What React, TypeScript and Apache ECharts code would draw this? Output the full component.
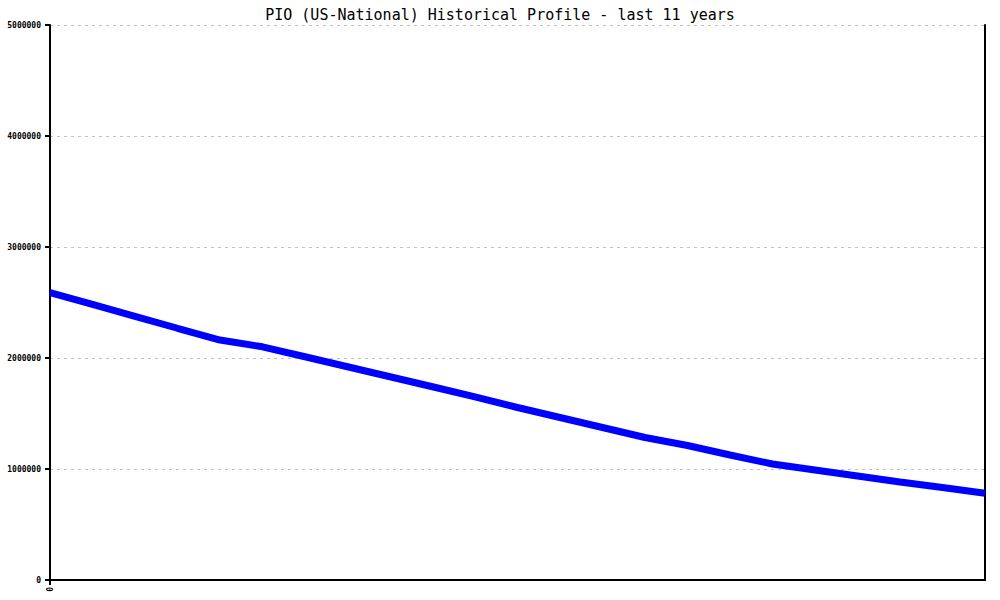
import React, { useEffect, useRef } from "react";
import * as echarts from "echarts";

const titleText = "PIO (US-National) Historical Profile - last 11 years";
const categories = [
  "0", "1", "2", "3", "4", "5", "6", "7", "8", "9", "10", "11",
  "12", "13", "14", "15", "16", "17", "18", "19", "20", "21", "22",
];
const values = [
  2590000, 2483000, 2376000, 2268000, 2162000, 2101000, 2011000, 1921000,
  1831000, 1741000, 1649000, 1554000, 1464000, 1374000, 1284000, 1212000,
  1126000, 1045000, 991000, 937000, 883000, 833000, 781000,
];
const yMin = 0;
const yMax = 5000000;
const yStep = 1000000;

export default function App() {
  const ref = useRef<HTMLDivElement>(null);
  useEffect(() => {
    document.body.style.margin = "0";
    if (!ref.current) return;
    const chart = echarts.init(ref.current, null, { renderer: "svg" });
    const mono = "DejaVu Sans Mono";
    chart.setOption({
      animation: false,
      backgroundColor: "#ffffff",
      title: {
        text: titleText,
        left: "center",
        top: 2,
        textStyle: { fontFamily: mono, fontSize: 15, fontWeight: "normal", color: "#000" },
      },
      grid: {
        left: 50,
        right: 15,
        top: 25,
        bottom: 20,
        containLabel: false,
        outerBoundsMode: "none",
      },
      xAxis: {
        type: "category",
        data: categories,
        boundaryGap: false,
        axisLine: { show: true, lineStyle: { color: "#000", width: 2 } },
        axisTick: {
          show: true,
          length: 5,
          interval: (i: number) => i === 0,
          lineStyle: { color: "#000", width: 2 },
        },
        axisLabel: {
          show: true,
          interval: (i: number) => i === 0,
          rotate: 90,
          margin: 7,
          fontFamily: mono,
          fontSize: 8,
          fontWeight: "bold",
          color: "#000",
        },
        splitLine: { show: false },
      },
      yAxis: [
        {
          type: "value",
          min: yMin,
          max: yMax,
          interval: yStep,
          axisLine: { show: true, lineStyle: { color: "#000", width: 2 } },
          axisTick: { show: true, length: 5, lineStyle: { color: "#000", width: 2 } },
          axisLabel: {
            fontFamily: mono,
            fontSize: 8,
            fontWeight: "bold",
            color: "#000",
            margin: 9,
            formatter: (v: number) => String(v),
          },
          splitLine: {
            show: true,
            lineStyle: { color: "#c0c0c0", width: 1, type: [3, 4] },
          },
        },
        {
          type: "value",
          position: "right",
          min: yMin,
          max: yMax,
          interval: yStep,
          axisLine: { show: true, lineStyle: { color: "#000", width: 2 } },
          axisTick: { show: false },
          axisLabel: { show: false },
          splitLine: { show: false },
        },
      ],
      series: [
        {
          type: "line",
          data: values,
          yAxisIndex: 0,
          showSymbol: false,
          symbol: "none",
          lineStyle: { color: "#0000ff", width: 7 },
          itemStyle: { color: "#0000ff" },
        },
      ],
    });
    return () => chart.dispose();
  }, []);
  return <div ref={ref} style={{ width: 1000, height: 600 }} />;
}
